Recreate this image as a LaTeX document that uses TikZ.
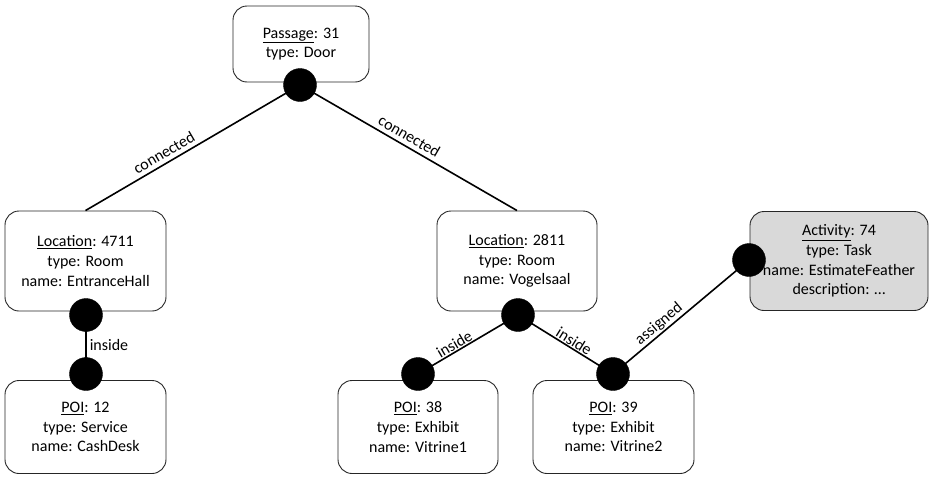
\documentclass[tikz,border=0pt]{standalone}
\usepackage{fontspec}
\setmainfont{Carlito}
\begin{document}
\begin{tikzpicture}[x=1pt,y=-1pt,
  box/.style={draw=black!85,line width=0.9pt,rounded corners=14pt,align=center,
    font=\fontsize{16}{19.6}\selectfont,inner sep=0pt},
  dot/.style={circle,fill=black,draw=black,minimum size=33pt,inner sep=0pt},
  conn/.style={line width=1.6pt},
  lbl/.style={font=\fontsize{16}{18}\selectfont,sloped,above,inner sep=1pt},
  lblfar/.style={lbl,inner sep=4pt}]
\useasboundingbox (0,0) rectangle (932,477);
\node[box,minimum width=136pt,minimum height=76pt] (P) at (301,44) {\underline{Passage}: 31\\type: Door};
\node[box,minimum width=161pt,minimum height=100pt] (L1) at (85.5,261) {\underline{Location}: 4711\\type: Room\\name: EntranceHall};
\node[box,minimum width=161pt,minimum height=93pt] (Q1) at (85.5,427) {\underline{POI}: 12\\type: Service\\name: CashDesk};
\node[box,minimum width=160pt,minimum height=100pt] (L2) at (517,261) {\underline{Location}: 2811\\type: Room\\name: Vogelsaal};
\node[box,minimum width=160pt,minimum height=93pt] (Q2) at (418,427) {\underline{POI}: 38\\type: Exhibit\\name: Vitrine1};
\node[box,minimum width=161pt,minimum height=93pt] (Q3) at (613.5,427) {\underline{POI}: 39\\type: Exhibit\\name: Vitrine2};
\node[box,fill=black!15,minimum width=178pt,minimum height=99pt] (A) at (839,261) {\underline{Activity}: 74\\type: Task\\name: EstimateFeather\\description: \dots};
\draw[conn] (L1.north) -- node[lblfar,pos=0.39] {connected} (300,85) coordinate (d0c);
\draw[conn] (d0c) -- node[lblfar,pos=0.48] {connected} (L2.north);
\draw[conn] (86,315) coordinate (d1c) -- node[right,font=\fontsize{16}{18}\selectfont,inner sep=3pt] {inside} (86,374) coordinate (d2c);
\draw[conn] (418,374) coordinate (d4c) -- node[lbl,pos=0.4] {inside} (518,315) coordinate (d3c);
\draw[conn] (d3c) -- node[lbl,pos=0.55] {inside} (613,374) coordinate (d5c);
\draw[conn] (d5c) -- node[lbl,pos=0.38] {assigned} (749,260) coordinate (d6c);
\node[dot] (d0) at (d0c) {};
\node[dot] (d1) at (d1c) {};
\node[dot] (d2) at (d2c) {};
\node[dot] (d3) at (d3c) {};
\node[dot] (d4) at (d4c) {};
\node[dot] (d5) at (d5c) {};
\node[dot] (d6) at (d6c) {};
\end{tikzpicture}
\end{document}
